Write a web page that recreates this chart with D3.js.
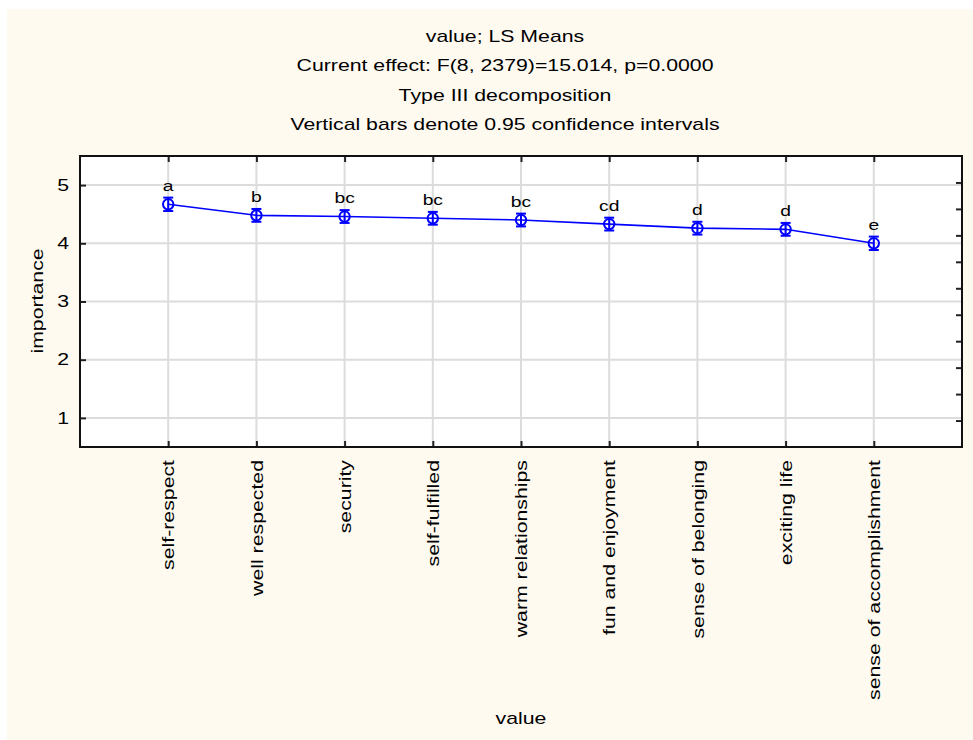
<!DOCTYPE html>
<html><head><meta charset="utf-8">
<script src="https://cdn.jsdelivr.net/npm/d3@7"></script>
<style>body{margin:0;background:#fff}svg{display:block}text{font-family:Arial,"Liberation Sans",sans-serif;fill:#000}</style>
</head><body><svg id="c" width="973" height="740"></svg>
<script>
const categories = ["self-respect","well respected","security","self-fulfilled","warm relationships","fun and enjoyment","sense of belonging","exciting life","sense of accomplishment"];
const means = [4.67, 4.48, 4.46, 4.43, 4.40, 4.33, 4.26, 4.24, 4.00];
const ciHalf = [0.115, 0.11, 0.11, 0.11, 0.11, 0.11, 0.11, 0.11, 0.115];
const groupLetters = ["a","b","bc","bc","bc","cd","d","d","e"];
const yTicks = [1,2,3,4,5];
const rightTicks = [1,2,3,4,5,6,7,8,9,10];
const titles = ["value; LS Means","Current effect: F(8, 2379)=15.014, p=0.0000","Type III decomposition","Vertical bars denote 0.95 confidence intervals"];

const svg = d3.select("#c");
const L=80, R=962, T=156, B=447;
const SX = 1.33, fs = 16;
svg.append("rect").attr("x",7).attr("y",9).attr("width",966).attr("height",731).attr("fill","#FFFAF0");
svg.append("rect").attr("x",L).attr("y",T).attr("width",R-L).attr("height",B-T).attr("fill","#fff");

const x = d3.scalePoint().domain(categories).range([L,R]).padding(1);
const y = d3.scaleLinear().domain([0.5,5.5]).range([B,T]);
const yR = d3.scaleLinear().domain([0,11]).range([B,T]);

// grid
const g = svg.append("g");
g.selectAll(".gx").data(categories).join("line").attr("x1",d=>x(d)).attr("x2",d=>x(d)).attr("y1",T).attr("y2",B).attr("stroke","#dcdcdc").attr("stroke-width",2);
g.selectAll(".gy").data(yTicks).join("line").attr("x1",L).attr("x2",R).attr("y1",d=>y(d)).attr("y2",d=>y(d)).attr("stroke","#dcdcdc").attr("stroke-width",2);

// axes
const ax = svg.append("g").attr("transform",`translate(${L},0)`).call(d3.axisLeft(y).tickValues(yTicks).tickFormat(d3.format("d")).tickSizeInner(-6).tickSizeOuter(0));
const axR = svg.append("g").attr("transform",`translate(${R},0)`).call(d3.axisRight(yR).tickValues(rightTicks).tickFormat("").tickSizeInner(-6).tickSizeOuter(0));
const axB = svg.append("g").attr("transform",`translate(0,${B})`).call(d3.axisBottom(x).tickSizeInner(-6).tickSizeOuter(0));
const axT = svg.append("g").attr("transform",`translate(0,${T})`).call(d3.axisTop(x).tickFormat("").tickSizeInner(-6).tickSizeOuter(0));
[ax,axR,axB,axT].forEach(a=>{a.select(".domain").remove(); a.selectAll("line").attr("stroke","#222").attr("stroke-width",2);});
ax.selectAll("text").attr("font-size",fs).attr("fill","#000").style("font-family","Arial,'Liberation Sans',sans-serif")
  .attr("x",0).attr("transform",`translate(-11,0) scale(${SX},1)`);
axB.selectAll("text").attr("font-size",fs).attr("fill","#000").style("font-family","Arial,'Liberation Sans',sans-serif")
  .attr("text-anchor","end").attr("x",0).attr("y",0).attr("dy","0.35em")
  .attr("transform",`rotate(-90) translate(-13,0) scale(${SX},1)`);
svg.append("rect").attr("x",L).attr("y",T).attr("width",R-L).attr("height",B-T).attr("fill","none").attr("stroke","#111").attr("stroke-width",2);

// titles
svg.selectAll(".title").data(titles).join("text").attr("transform",(d,i)=>`translate(505,${42+i*29.3}) scale(${SX},1)`).attr("text-anchor","middle").attr("font-size",fs).text(d=>d);
svg.append("text").attr("transform",`translate(521,724) scale(${SX},1)`).attr("text-anchor","middle").attr("font-size",fs).text("value");
svg.append("text").attr("transform",`translate(43,301) rotate(-90) scale(${SX},1)`).attr("text-anchor","middle").attr("font-size",fs).text("importance");

// series
const blue="#0000FF";
const data = categories.map((c,i)=>({c,m:means[i],h:ciHalf[i],l:groupLetters[i]}));
svg.append("path").datum(data).attr("d",d3.line().x(d=>x(d.c)).y(d=>y(d.m))).attr("fill","none").attr("stroke",blue).attr("stroke-width",1.6);
const pts = svg.selectAll(".pt").data(data).join("g");
pts.append("line").attr("x1",d=>x(d.c)).attr("x2",d=>x(d.c)).attr("y1",d=>y(d.m-d.h)).attr("y2",d=>y(d.m+d.h)).attr("stroke",blue).attr("stroke-width",2);
pts.append("line").attr("x1",d=>x(d.c)-5).attr("x2",d=>x(d.c)+5).attr("y1",d=>y(d.m+d.h)).attr("y2",d=>y(d.m+d.h)).attr("stroke",blue).attr("stroke-width",2);
pts.append("line").attr("x1",d=>x(d.c)-5).attr("x2",d=>x(d.c)+5).attr("y1",d=>y(d.m-d.h)).attr("y2",d=>y(d.m-d.h)).attr("stroke",blue).attr("stroke-width",2);
pts.append("circle").attr("cx",d=>x(d.c)).attr("cy",d=>y(d.m)).attr("r",5.2).attr("fill","none").attr("stroke",blue).attr("stroke-width",2);
pts.append("text").attr("transform",d=>`translate(${x(d.c)},${y(d.m+d.h)-7}) scale(${SX},1)`).attr("text-anchor","middle").attr("font-size",14.5).text(d=>d.l);
</script></body></html>
